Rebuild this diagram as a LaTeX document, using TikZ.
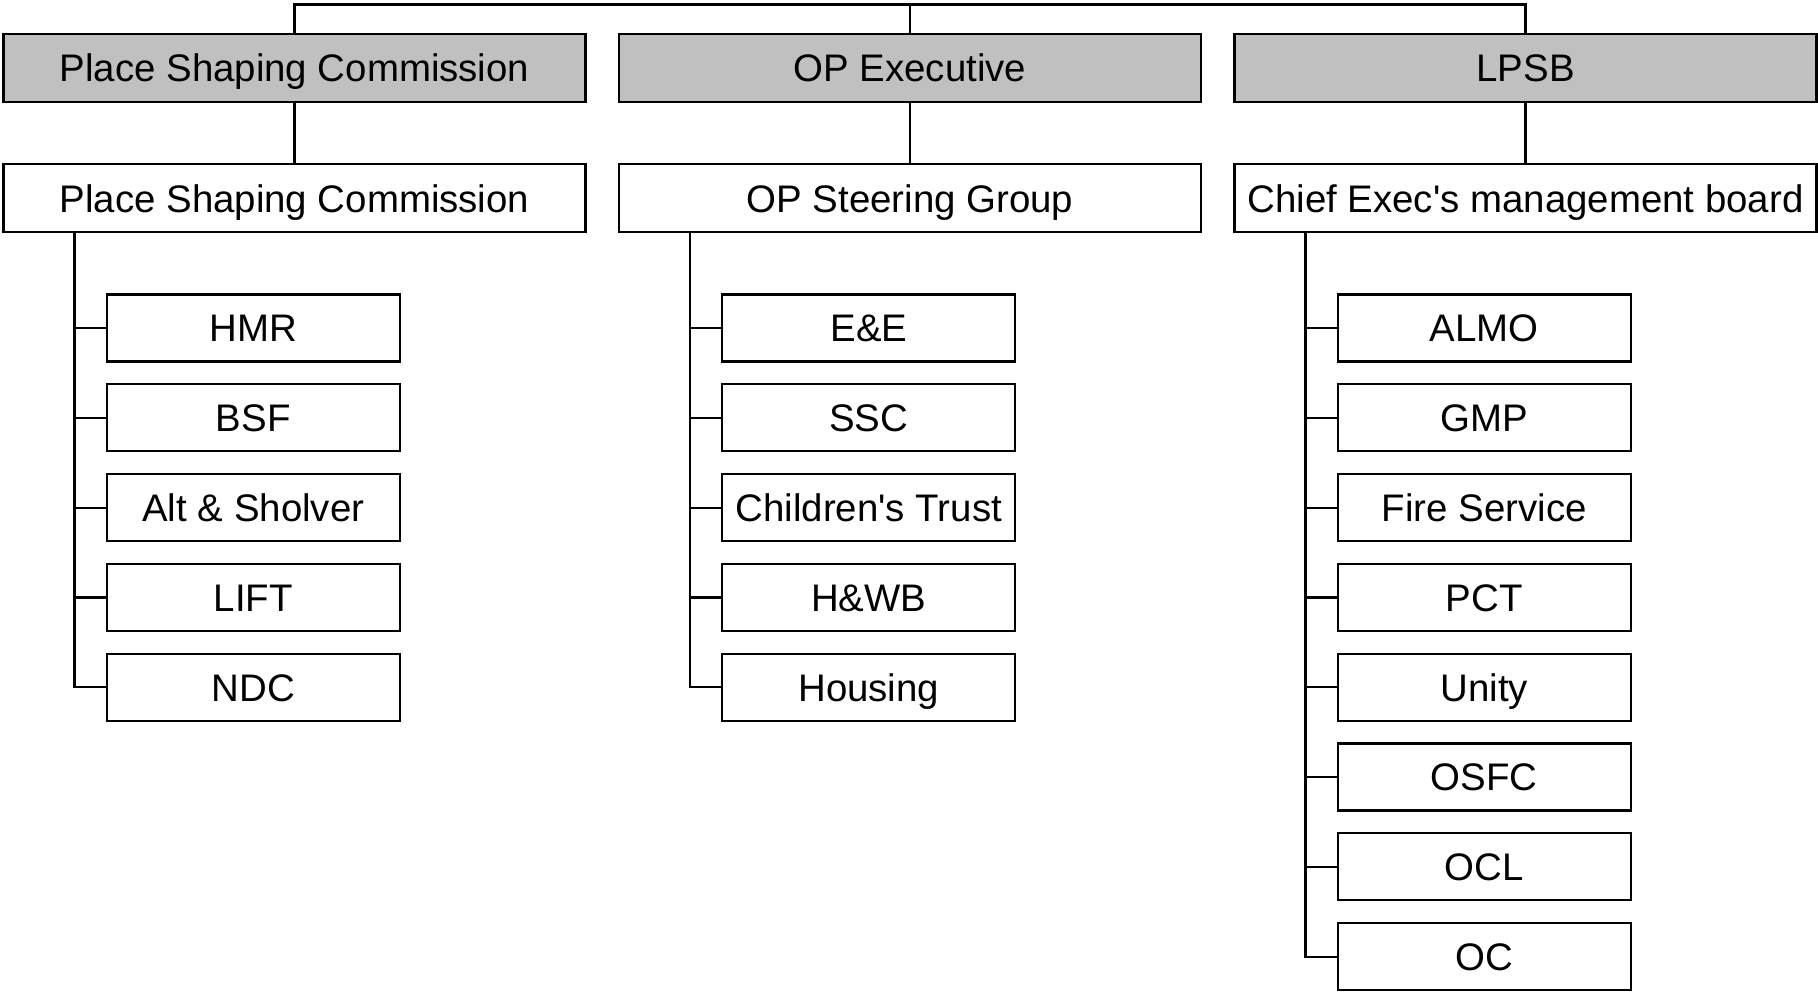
\documentclass[tikz,border=0pt]{standalone}
\usepackage{fontspec}
\setmainfont{Liberation Sans}
\usetikzlibrary{positioning, calc}
\definecolor{boardgray}{HTML}{C0C0C0}

\begin{document}
\begin{tikzpicture}[x=0.5pt, y=-0.5pt, line width=1.1pt,
    every node/.style={font=\fontsize{19.2}{23}\selectfont, draw, inner sep=0pt, align=center,
        text height=13.8pt, text depth=0pt},
    topbox/.style={fill=boardgray, minimum width=291pt, minimum height=34pt},
    groupbox/.style={minimum width=291pt, minimum height=34pt},
    memberbox/.style={minimum width=146.5pt, minimum height=33.5pt}]
    \useasboundingbox (0,0) rectangle (1818,994);

    % Boards
    \node[topbox] (t1) at (294.5,67.8) {Place Shaping Commission};
    \node[topbox] (t2) at (910,67.8) {OP Executive};
    \node[topbox] (t3) at (1525.5,67.8) {LPSB};
    \coordinate (bus) at (910,4.5);
    \draw (t1.north) |- (bus) -| (t3.north);
    \draw (t2.north) -- (bus);

    % Groups
    \node[groupbox] (g1) at (294.5,198.3) {Place Shaping Commission};
    \node[groupbox] (g2) at (910,198.3) {OP Steering Group};
    \node[groupbox] (g3) at (1525.5,198.3) {Chief Exec\textquotesingle s management board};
    \draw (t1) -- (g1);
    \draw (t2) -- (g2);
    \draw (t3) -- (g3);

    % Members
    \foreach \name [count=\k] in {HMR, BSF, Alt \& Sholver, LIFT, NDC} {
        \node[memberbox] (a\k) at (253.3,{328+89.8*(\k-1)}) {\name};
        \draw (a\k.west) -- ++(-31,0);
    }
    \foreach \name [count=\k] in {E\&E, SSC, Children\textquotesingle s Trust, H\&WB, Housing} {
        \node[memberbox] (b\k) at (868.8,{328+89.8*(\k-1)}) {\name};
        \draw (b\k.west) -- ++(-31,0);
    }
    \foreach \name [count=\k] in {ALMO, GMP, Fire Service, PCT, Unity, OSFC, OCL, OC} {
        \node[memberbox] (c\k) at (1484.3,{328+89.8*(\k-1)}) {\name};
        \draw (c\k.west) -- ++(-31,0);
    }
    \draw (g1.south west) ++(72,0) |- (a5.west);
    \draw (g2.south west) ++(72,0) |- (b5.west);
    \draw (g3.south west) ++(72,0) |- (c8.west);
\end{tikzpicture}
\end{document}
